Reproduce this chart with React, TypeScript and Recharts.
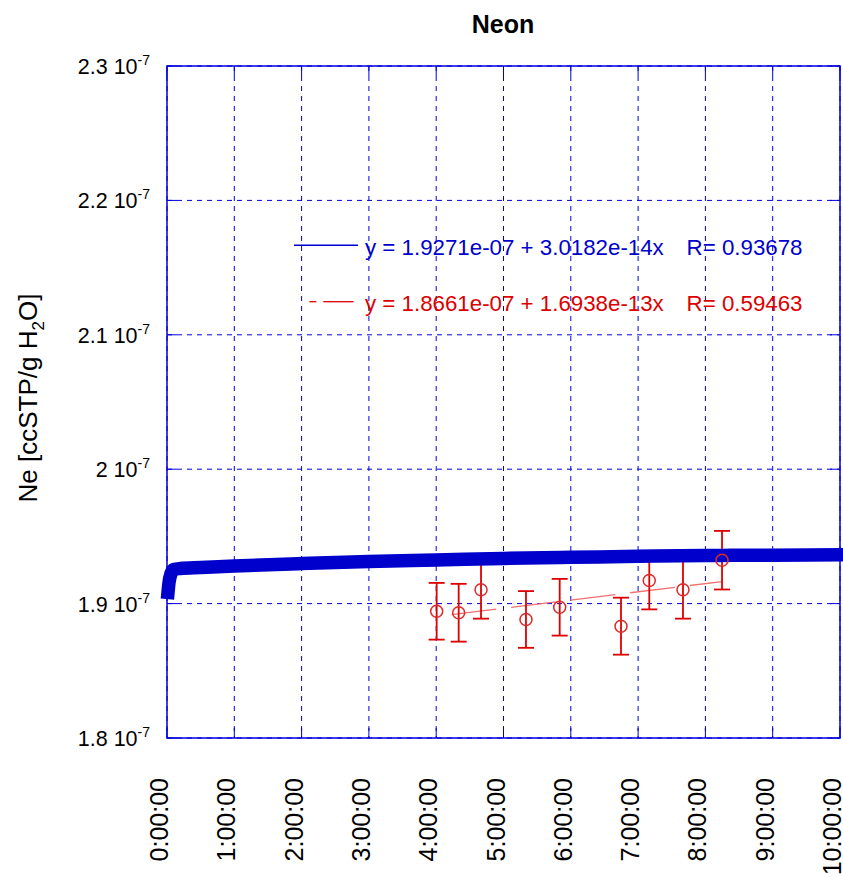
import React from 'react';
import {
  ComposedChart,
  Line,
  Scatter,
  XAxis,
  YAxis,
  CartesianGrid,
  ErrorBar,
  ReferenceArea,
} from 'recharts';

const FONT = '"Liberation Sans", Arial, Helvetica, sans-serif';
const BLUE = '#0000cc';
const GRID = '#0000dd';
const RED = '#dd0000';

// elapsed time in hours, Ne in units of 1e-7 ccSTP/g H2O
const runHours = [0.015, 0.03, 0.06, 0.1, 0.2, 0.5, 1, 2, 3, 4, 5, 6, 7, 8, 9, 10];
const runNe = [
  1.9084, 1.9157, 1.9224, 1.9254, 1.9261, 1.9268, 1.928, 1.9298, 1.9313, 1.9324,
  1.9336, 1.9344, 1.9352, 1.9358, 1.936, 1.9363,
];

const sampleHours = [4.007, 4.334, 4.666, 5.334, 5.835, 6.746, 7.166, 7.667, 8.247];
const sampleNe = [1.8943, 1.8932, 1.9103, 1.8882, 1.8973, 1.8832, 1.9172, 1.9103, 1.9323];
const sampleErr = [0.0211, 0.0215, 0.0215, 0.0211, 0.0211, 0.0212, 0.0215, 0.0215, 0.0218];

// end points of the linear fit through the samples
const fitHours = [4.007, 8.247];
const fitNe = [1.8905, 1.9164];

const hourTicks = [0, 1, 2, 3, 4, 5, 6, 7, 8, 9, 10];
const neTicks = [1.8, 1.9, 2.0, 2.1, 2.2, 2.3];

const runData = runHours.map((t, i) => ({ t, v: runNe[i] }));
const sampleData = sampleHours.map((t, i) => ({ t, v: sampleNe[i], err: sampleErr[i] }));
const fitData = fitHours.map((t, i) => ({ t, v: fitNe[i] }));

const W = 843;
const H = 877;
const PLOT = { left: 167, right: 840, top: 66, bottom: 738 };
const TICK_LEN = 10;
const LEGEND_FONT = 22.3;

const HourTick = (props: any) => {
  const { x, payload } = props;
  return (
    <g>
      <line x1={x} x2={x} y1={PLOT.bottom} y2={PLOT.bottom - TICK_LEN} stroke={GRID} />
      <line x1={x} x2={x} y1={PLOT.top} y2={PLOT.top + TICK_LEN} stroke={GRID} />
      <text
        transform={`translate(${x + 1},778) rotate(-90)`}
        textAnchor="end"
        fontSize={25}
        fontFamily={FONT}
        fill="#000"
      >
        {`${payload.value}:00:00`}
      </text>
    </g>
  );
};

const NeTick = (props: any) => {
  const { y, payload } = props;
  const v: number = payload.value;
  const label = Math.abs(v - 2) < 1e-9 ? '2' : v.toFixed(1);
  return (
    <g>
      <line x1={PLOT.left} x2={PLOT.left + TICK_LEN} y1={y} y2={y} stroke={GRID} />
      <line x1={PLOT.right - TICK_LEN} x2={PLOT.right} y1={y} y2={y} stroke={GRID} />
      <text x={150} y={y + 8} textAnchor="end" fontSize={21.5} fontFamily={FONT} fill="#000">
        {`${label} 10`}
        <tspan dy={-9} fontSize={14}>-7</tspan>
      </text>
    </g>
  );
};

const Circle = (props: any) => {
  const { cx, cy } = props;
  return <circle cx={cx} cy={cy} r={6} fill="none" stroke="#e02828" strokeWidth={1.5} />;
};

const Nothing = () => <g />;

export default function App() {
  return (
    <div style={{ position: 'absolute', left: 0, top: 0, width: W, height: H, background: '#fff' }}>
      <ComposedChart
        width={W}
        height={H}
        margin={{ top: PLOT.top, right: W - PLOT.right, bottom: 0, left: 0 }}
      >
        <CartesianGrid stroke={GRID} strokeDasharray="5 5" strokeWidth={1} />
        <XAxis
          dataKey="t"
          type="number"
          domain={[0, 10]}
          ticks={hourTicks}
          interval={0}
          height={H - PLOT.bottom}
          axisLine={false}
          tickLine={false}
          tick={HourTick}
        />
        <YAxis
          dataKey="v"
          type="number"
          domain={[1.8, 2.3]}
          ticks={neTicks}
          interval={0}
          width={PLOT.left}
          axisLine={false}
          tickLine={false}
          tick={NeTick}
        />
        <ReferenceArea
          x1={0}
          x2={10}
          y1={1.8}
          y2={2.3}
          fill="none"
          stroke={GRID}
          strokeWidth={1.5}
        />
        <Line
          data={fitData}
          dataKey="v"
          type="linear"
          stroke="#f07070"
          strokeWidth={1.3}
          strokeDasharray="45 15"
          strokeDashoffset={45}
          dot={false}
          isAnimationActive={false}
        />
        <Scatter data={sampleData} dataKey="v" shape={Nothing} isAnimationActive={false}>
          <ErrorBar dataKey="err" direction="y" width={8} stroke={RED} strokeWidth={1.8} />
        </Scatter>
        <Line
          data={runData}
          dataKey="v"
          type="monotone"
          stroke={BLUE}
          strokeWidth={13.5}
          strokeLinecap="square"
          strokeLinejoin="round"
          dot={false}
          isAnimationActive={false}
        />
        <Scatter data={sampleData} dataKey="v" shape={Circle} isAnimationActive={false} />
      </ComposedChart>

      <svg
        width={W}
        height={H}
        style={{ position: 'absolute', left: 0, top: 0, pointerEvents: 'none' }}
        fontFamily={FONT}
      >
        <text x={503} y={33} textAnchor="middle" fontSize={25} fontWeight="bold" fill="#000">
          Neon
        </text>
        <text
          transform="translate(37,398) rotate(-90)"
          textAnchor="middle"
          fontSize={26}
          fill="#000"
        >
          Ne [ccSTP/g H
          <tspan dy={7} fontSize={17}>2</tspan>
          <tspan dy={-7}>O]</tspan>
        </text>

        <line x1={294} x2={358} y1={245.3} y2={245.3} stroke={BLUE} strokeWidth={1.5} />
        <text x={365} y={254.6} fontSize={LEGEND_FONT} fill={BLUE}>
          y = 1.9271e-07 + 3.0182e-14x
        </text>
        <text x={686.6} y={254.6} fontSize={LEGEND_FONT} fill={BLUE}>
          R= 0.93678
        </text>

        <line x1={309.4} x2={316.3} y1={301.7} y2={301.7} stroke={RED} strokeWidth={1.3} />
        <line x1={323.3} x2={353.7} y1={301.7} y2={301.7} stroke={RED} strokeWidth={1.3} />
        <text x={365} y={310.7} fontSize={LEGEND_FONT} fill={RED}>
          y = 1.8661e-07 + 1.6938e-13x
        </text>
        <text x={686.6} y={310.7} fontSize={LEGEND_FONT} fill={RED}>
          R= 0.59463
        </text>
      </svg>
    </div>
  );
}
